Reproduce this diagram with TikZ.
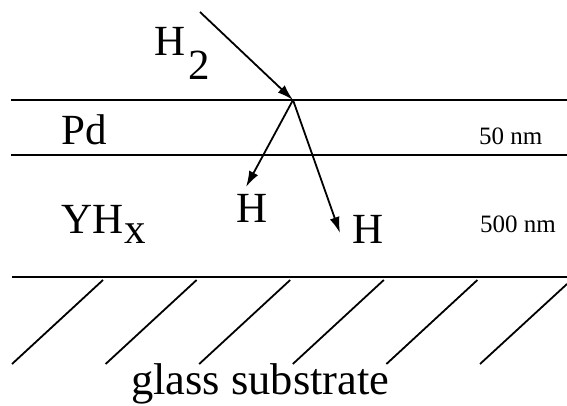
\documentclass[tikz,border=0pt]{standalone}
\usepackage{fontspec}
\setmainfont{Liberation Serif}
\usetikzlibrary{arrows.meta}
\tikzset{
  layer/.style={line width=2.5pt},
  hatch/.style={line width=1.8pt},
  flow/.style={line width=1.8pt,-{Latex[length=16pt,width=10pt]}},
  bigtxt/.style={inner sep=0pt,anchor=base west,font=\fontsize{43}{46}\selectfont},
  smalltxt/.style={inner sep=0pt,anchor=base west,font=\fontsize{25}{28}\selectfont}
}
\begin{document}
\begin{tikzpicture}[x=1pt,y=-1pt]
\useasboundingbox (0,0) rectangle (567,405);
% layer boundaries
\coordinate (l1a) at (11,100); \coordinate (l1b) at (567,100);
\coordinate (l2a) at (11,155); \coordinate (l2b) at (567,155);
\coordinate (l3a) at (12,277); \coordinate (l3b) at (567,277);
\draw[layer] (l1a) -- (l1b);
\draw[layer] (l2a) -- (l2b);
\draw[layer] (l3a) -- (l3b);
% hatching of the substrate
\foreach \i in {0,...,4} {
  \coordinate (hb\i) at ({12+93.6*\i},364);
  \coordinate (ht\i) at ({12+93.6*\i+91},280);
  \draw[hatch] (hb\i) -- (ht\i);
}
\coordinate (hb5) at (480,364); \coordinate (ht5) at (567,284);
\draw[hatch] (hb5) -- (ht5);
% labels
\node[bigtxt] (h2) at (154,55) {H\kern3pt\raisebox{-24pt}{2}};
\node[bigtxt] (pd) at (61,144) {Pd};
\node[bigtxt] (yhx) at (61,233) {YH\kern1pt\raisebox{-10pt}{x}};
\node[bigtxt] (ha) at (236,222) {H};
\node[bigtxt] (hb) at (352,243) {H};
\node[bigtxt,font=\fontsize{44.5}{48}\selectfont] (glass) at (131,394) {glass substrate};
\node[smalltxt] (t50) at (479,144) {50 nm};
\node[smalltxt] (t500) at (480,232) {500 nm};
% arrows
\coordinate (src) at (200,12);
\coordinate (hit) at (293,100);
\coordinate (tipa) at (246,187);
\coordinate (tipb) at (340,233);
\draw[flow] (src) -- (hit);
\draw[flow] (hit) -- (tipa);
\draw[flow] (hit) -- (tipb);
\end{tikzpicture}
\end{document}
